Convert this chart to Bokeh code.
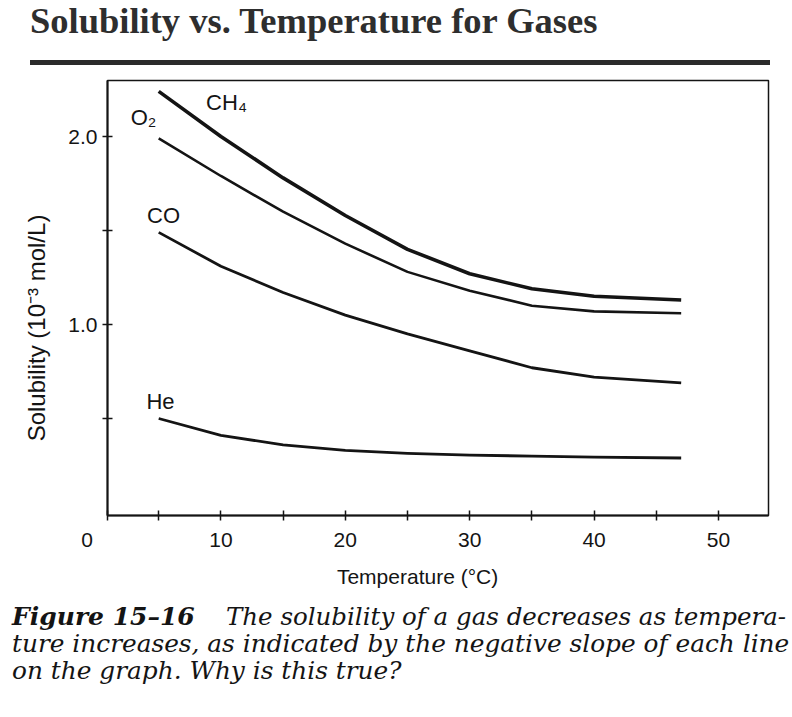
from bokeh.plotting import figure
from bokeh.models import (Range1d, FixedTicker, PrintfTickFormatter, CustomJSTickFormatter,
                          ColumnDataSource, Div)
from bokeh.layouts import column
from bokeh.embed import file_html
from bokeh.resources import INLINE
from bokeh.core.properties import value

# ---------------- data ----------------
title_text = "Solubility vs. Temperature for Gases"
x_label = "Temperature (°C)"
y_label = "Solubility (10⁻³ mol/L)"
caption_bold = "Figure 15–16"
caption_lines = [
    "The solubility of a gas decreases as tempera-",
    "ture increases, as indicated by the negative slope of each line",
    "on the graph. Why is this true?",
]

temperature = [5, 10, 15, 20, 25, 30, 35, 40, 47]
ch4 = [2.24, 2.00, 1.78, 1.58, 1.40, 1.27, 1.19, 1.15, 1.13]
o2 = [1.99, 1.79, 1.60, 1.43, 1.28, 1.18, 1.10, 1.07, 1.06]
co = [1.49, 1.31, 1.17, 1.05, 0.95, 0.86, 0.77, 0.72, 0.69]
he = [0.50, 0.41, 0.36, 0.33, 0.315, 0.305, 0.30, 0.295, 0.29]

gas_names = ["CH₄", "O₂", "CO", "He"]
gas_label_x = [10.45, 3.78, 5.39, 5.14]
gas_label_y = [2.18, 2.10, 1.58, 0.59]

x_origin_tick = 0.885          # corner of the axes, labelled "0"
x_major = [10, 20, 30, 40, 50]
x_minor = [5, 15, 25, 35, 45]
y_major = [1.0, 2.0]
y_minor = [0.5, 1.5]

SANS = "Liberation Sans"
INK = "#141414"
NBSP = "\u00a0"

# ---------------- title strip (HTML) ----------------
title_html = (
    '<div style="position:relative;width:792px;height:74px;overflow:hidden;">'
    '<div style="position:absolute;left:30px;top:3px;white-space:nowrap;'
    "font-family:'Liberation Serif';font-weight:bold;font-size:36.5px;line-height:36px;"
    f'color:#2e2e2e;">{title_text}</div>'
    '<div style="position:absolute;left:30px;top:60px;width:740px;height:5px;'
    'background:#2b2b2b;"></div>'
    '</div>'
)
top = Div(text=title_html, width=792, height=74, margin=(0, 0, 0, 0))

# ---------------- main chart ----------------
p = figure(width=792, height=521, x_range=Range1d(0.884, 54.02), y_range=Range1d(-0.016, 2.298),
           toolbar_location=None, output_backend="svg",
           min_border_left=107, min_border_right=24, min_border_top=6, min_border_bottom=80)
p.grid.visible = False
p.outline_line_color = INK
p.outline_line_width = 1.5

src = ColumnDataSource(dict(t=temperature, ch4=ch4, o2=o2, co=co, he=he))
p.line("t", "ch4", source=src, line_width=3.6, line_color=INK, line_join="round")
p.line("t", "o2", source=src, line_width=2.6, line_color=INK, line_join="round")
p.line("t", "co", source=src, line_width=2.8, line_color=INK, line_join="round")
p.line("t", "he", source=src, line_width=2.8, line_color=INK, line_join="round")

lab_src = ColumnDataSource(dict(x=gas_label_x, y=gas_label_y, text=gas_names))
p.text("x", "y", text="text", source=lab_src, text_font=value(SANS), text_font_size="22px",
       text_color=INK, text_align="center", text_baseline="middle")

for ax in (p.xaxis, p.yaxis):
    ax.axis_line_width = 2
    ax.axis_line_color = INK
    ax.major_tick_in = 5
    ax.major_tick_out = 5
    ax.minor_tick_in = 5
    ax.minor_tick_out = 5
    ax.major_tick_line_color = INK
    ax.minor_tick_line_color = INK
    ax.major_tick_line_width = 1.5
    ax.minor_tick_line_width = 1.5
    ax.major_label_text_font = SANS
    ax.major_label_text_font_size = "21px"
    ax.major_label_text_color = INK
    ax.axis_label_text_font = SANS
    ax.axis_label_text_font_size = "21px"
    ax.axis_label_text_font_style = "normal"
    ax.axis_label_text_color = INK

p.xaxis.ticker = FixedTicker(ticks=[x_origin_tick] + x_major, minor_ticks=x_minor)
p.xaxis.formatter = CustomJSTickFormatter(
    code="return (tick < 1) ? '0' + '\\u00a0'.repeat(7) : tick.toFixed(0);")
p.yaxis.ticker = FixedTicker(ticks=y_major, minor_ticks=y_minor)
p.yaxis.formatter = PrintfTickFormatter(format="%.1f")
p.xaxis.major_label_standoff = 7
p.yaxis.major_label_standoff = 5

# axis labels (padding shifts them off-centre, as in the printed figure)
p.xaxis.axis_label = x_label + NBSP * 7
p.xaxis.axis_label_standoff = 11
p.yaxis.axis_label = y_label + NBSP * 9
p.yaxis.axis_label_text_font_size = "24px"
p.yaxis.axis_label_standoff = 15

# ---------------- caption (HTML) ----------------
cap_style = "position:absolute;white-space:nowrap;font-family:'DejaVu Serif';font-style:italic;" \
            "line-height:27px;color:#141414;"
cap_html = (
    '<div style="position:relative;width:792px;height:122px;overflow:hidden;">'
    f'<div style="{cap_style}left:12px;top:8px;font-weight:bold;font-size:25px;">{caption_bold}</div>'
    f'<div style="{cap_style}left:226px;top:8px;font-size:24.5px;">{caption_lines[0]}</div>'
    f'<div style="{cap_style}left:12px;top:35px;font-size:24.8px;">{caption_lines[1]}</div>'
    f'<div style="{cap_style}left:12px;top:62px;font-size:24.8px;">{caption_lines[2]}</div>'
    '</div>'
)
cap = Div(text=cap_html, width=792, height=122, margin=(0, 0, 0, 0))

layout = column(top, p, cap, spacing=0)
open("out.html", "w").write(file_html(layout, INLINE))
